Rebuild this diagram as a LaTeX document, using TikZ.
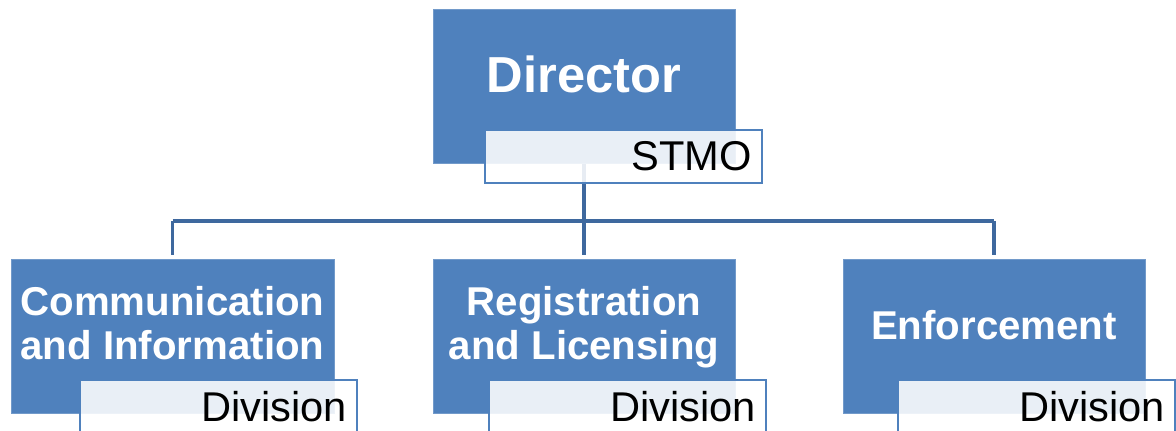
\documentclass[tikz,border=0pt]{standalone}
\usepackage{fontspec}
\setmainfont{Liberation Sans}
\usetikzlibrary{positioning,backgrounds}
\definecolor{boxblue}{RGB}{79,129,189}
\definecolor{linkblue}{RGB}{62,104,158}
\tikzset{
    raw box/.style={rectangle, inner sep=0pt, align=center},
    head box/.style={raw box, fill=boxblue, draw=boxblue!80!white, thin, minimum height=3.85cm},
    head text/.style={raw box, white, font=\bfseries\fontsize{28.6}{31.3}\selectfont},
    top text/.style={raw box, white, font=\bfseries\fontsize{36}{40}\selectfont},
    tag box/.style={rectangle, draw=boxblue, line width=2pt, fill=white, fill opacity=0.88, text opacity=1,
        minimum width=6.925cm, minimum height=1.325cm, text width=6.425cm, inner xsep=0.25cm, inner ysep=0pt,
        align=right, font=\fontsize{29.6}{32}\selectfont},
    link/.style={draw=linkblue, line width=2.8pt}
}
\begin{document}
\begin{tikzpicture}[x=0.025cm, y=-0.025cm]
	\useasboundingbox (0,0) rectangle (1176,431);
	% top of the chart
	\node[head box, minimum width=7.55cm] (dir) at (584,86) {};
	\node[top text] (dirtext) at (584,74.5) {Director};
	\node[tag box] (stmo) at (623.5,156.5) {STMO};
	% divisions
	\node[head box, minimum width=8.075cm] (comm) at (172.5,336) {};
	\node[head text] (commtext) at (172.5,323) {Communication\\and Information};
	\node[tag box] (commdiv) at (218.5,406.5) {Division};
	\node[head box, minimum width=7.55cm] (reg) at (584,336) {};
	\node[head text] (regtext) at (584,327) {Registration\\and Licensing};
	\node[tag box] (regdiv) at (627.5,406.5) {Division};
	\node[head box, minimum width=7.55cm] (enf) at (994,336) {};
	\node[head text] (enftext) at (994,325.5) {Enforcement};
	\node[tag box] (enfdiv) at (1036.5,406.5) {Division};
	% connectors
	\coordinate (fork) at (584,221);
	\begin{scope}[on background layer]
		\draw[link] (dir.south) -- (fork);
		\draw[link] (fork -| comm.north) -- (fork -| enf.north);
		\foreach \sub in {comm,reg,enf}
			\draw[link, shorten >=2.8pt] (fork -| \sub.north) -- (\sub.north);
	\end{scope}
\end{tikzpicture}
\end{document}
